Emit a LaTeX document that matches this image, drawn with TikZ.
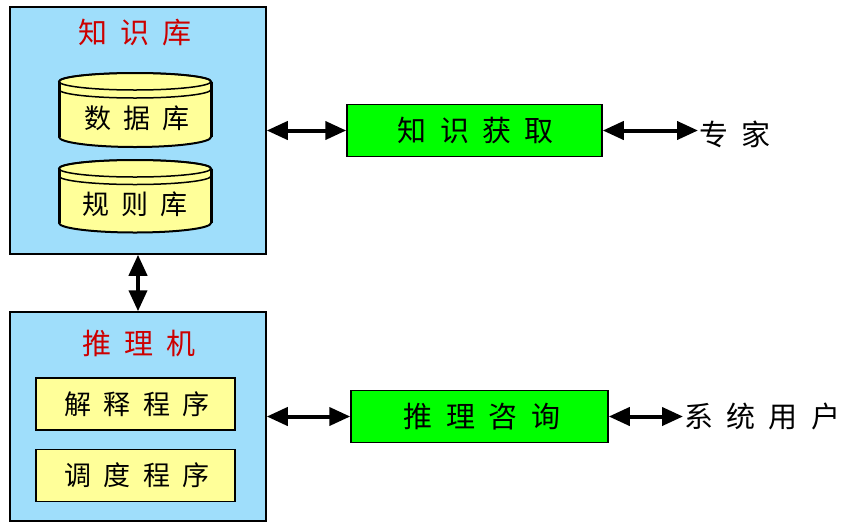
\documentclass[tikz,border=0pt]{standalone}
\usepackage{fontspec}
\newfontfamily\cjkfont[LetterSpace=46]{Noto Sans CJK SC}
\usetikzlibrary{arrows.meta}
\definecolor{panelblue}{HTML}{9FDEFB}
\definecolor{progyellow}{HTML}{FFFF99}
\definecolor{taskgreen}{HTML}{00FF00}
\definecolor{titlered}{HTML}{CC0000}
\tikzset{
  panel/.style={draw, line width=1.5pt, fill=panelblue, inner sep=0pt},
  title/.style={text=titlered, font=\cjkfont\fontsize{29}{29}\selectfont},
  prog/.style={draw, line width=1.2pt, fill=progyellow, inner sep=0pt,
    minimum width=199pt, minimum height=52pt, font=\cjkfont\fontsize{27}{27}\selectfont},
  task/.style={draw, line width=1.5pt, fill=taskgreen, inner sep=0pt,
    minimum height=52pt, font=\cjkfont\fontsize{29}{29}\selectfont},
  label/.style={font=\cjkfont\fontsize{27}{27}\selectfont},
  outer/.style={font=\cjkfont\fontsize{29}{29}\selectfont, anchor=west, inner sep=1pt},
  link/.style={line width=4pt, {Triangle[length=21pt,width=18pt]}-{Triangle[length=21pt,width=18pt]}},
  drum/.style={fill=progyellow, draw, line width=2pt},
}
\begin{document}
\begin{tikzpicture}[x=1pt,y=-1pt]
  \useasboundingbox (0,0) rectangle (848,528);

  % knowledge base
  \node[panel, minimum width=256pt, minimum height=247pt] (kb) at (138,130.5) {};
  \node[title] (kbtitle) at (135,33) {知识库};

  \path[drum] (59,81.5) -- (59,137) arc[start angle=180, end angle=0, x radius=76, y radius=10]
    -- (211,81.5) arc[start angle=0, end angle=-180, x radius=76, y radius=8.5] -- cycle;
  \draw[line width=1.5pt] (135,81.5) ellipse [x radius=76, y radius=8.5];
  \draw[line width=1.5pt] (59,89.5) arc[start angle=180, end angle=0, x radius=76, y radius=8.5];
  \draw[line width=3pt] (59,81.5) -- (59,137) (211,81.5) -- (211,137);
  \node[label] (db) at (137,118) {数据库};

  \path[drum] (59,168.5) -- (59,223) arc[start angle=180, end angle=0, x radius=76, y radius=9.5]
    -- (211,168.5) arc[start angle=0, end angle=-180, x radius=76, y radius=8.5] -- cycle;
  \draw[line width=1.5pt] (135,168.5) ellipse [x radius=76, y radius=8.5];
  \draw[line width=1.5pt] (59,176) arc[start angle=180, end angle=0, x radius=76, y radius=8.5];
  \draw[line width=3pt] (59,168.5) -- (59,223) (211,168.5) -- (211,223);
  \node[label] (rules) at (135,204) {规则库};

  % inference engine
  \node[panel, minimum width=256pt, minimum height=209pt] (engine) at (138,416.5) {};
  \node[title] (engtitle) at (139,343) {推理机};
  \node[prog] (explain) at (135.5,404) {\hspace{3pt}解释程序};
  \node[prog] (sched) at (135.5,475.5) {\hspace{3pt}调度程序};

  % right side
  \node[task, minimum width=255pt] (acquire) at (474.5,130.5) {\hspace{3pt}知识获取};
  \node[outer] (expert) at (698,134) {专家};
  \node[task, minimum width=257pt] (consult) at (479.5,416.5) {\hspace{5pt}推理咨询};
  \node[outer] (user) at (683,416.5) {系统用户};

  \draw[link] (kb.south) -- (engine.north);
  \draw[link] (kb.east) -- (acquire.west);
  \draw[link] (acquire.east) -- (acquire.east -| expert.west);
  \draw[link] (engine.east) -- (consult.west);
  \draw[link] (consult.east) -- (consult.east -| user.west);
\end{tikzpicture}
\end{document}
